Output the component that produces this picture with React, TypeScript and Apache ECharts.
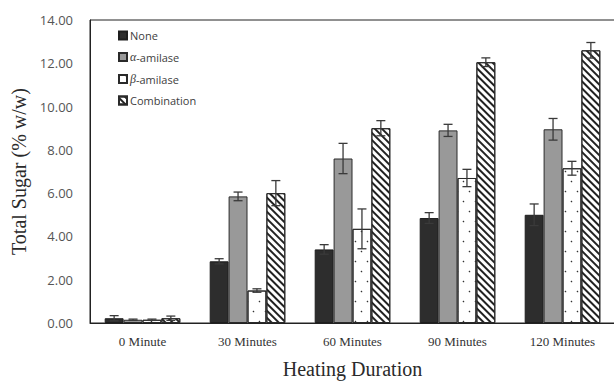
import React, { useEffect, useRef } from "react";
import * as echarts from "echarts";

const categories = ["0 Minute", "30 Minutes", "60 Minutes", "90 Minutes", "120 Minutes"];
const seriesNames = ["None", "α-amilase", "β-amilase", "Combination"];
const noneVals = [0.22, 2.85, 3.4, 4.85, 5.0];
const noneErr = [0.12, 0.12, 0.22, 0.25, 0.5];
const alphaVals = [0.15, 5.85, 7.6, 8.9, 8.95];
const alphaErr = [0.03, 0.2, 0.7, 0.28, 0.5];
const betaVals = [0.15, 1.5, 4.35, 6.7, 7.15];
const betaErr = [0.03, 0.08, 0.92, 0.4, 0.32];
const combVals = [0.22, 6.0, 9.0, 12.05, 12.6];
const combErr = [0.1, 0.58, 0.35, 0.2, 0.36];
const yTicks = [0, 2, 4, 6, 8, 10, 12, 14];

const allVals = [noneVals, alphaVals, betaVals, combVals];
const allErr = [noneErr, alphaErr, betaErr, combErr];

const CAT_GAP = 0.28;

export default function App() {
  const ref = useRef<HTMLDivElement>(null);
  useEffect(() => {
    if (!ref.current) return;
    const chart = echarts.init(ref.current, undefined, { renderer: "svg" });
    const styles: any[] = [
      { color: "#2d2d2d", borderColor: "#1e1e1e", borderWidth: 1 },
      { color: "#999999", borderColor: "#2a2a2a", borderWidth: 1 },
      {
        color: "#ffffff",
        borderColor: "#2a2a2a",
        borderWidth: 1,
        decal: {
          symbol: "circle",
          symbolSize: 0.5,
          color: "#333333",
          backgroundColor: "#ffffff",
          dashArrayX: [[3, 9], [0, 6, 3, 3]],
          dashArrayY: [3, 7],
          rotation: 0,
        },
      },
      {
        color: "#ffffff",
        borderColor: "#2a2a2a",
        borderWidth: 1,
        decal: {
          symbol: "rect",
          symbolSize: 1,
          color: "#222222",
          backgroundColor: "#ffffff",
          dashArrayX: [1, 0],
          dashArrayY: [1.6, 2.4],
          rotation: Math.PI / 4,
        },
      },
    ];
    const barSeries = seriesNames.map((name, i) => ({
      name,
      type: "bar",
      data: allVals[i],
      barGap: "0%",
      barCategoryGap: CAT_GAP * 100 + "%",
      itemStyle: styles[i],
      emphasis: { disabled: true },
    }));
    const errSeries = seriesNames.map((name, i) => ({
      type: "custom",
      name: name + "-err",
      data: allVals[i].map((v, k) => [k, v - allErr[i][k], v + allErr[i][k]]),
      encode: { x: 0, y: [1, 2] },
      z: 10,
      silent: true,
      renderItem: (params: any, api: any) => {
        const x = api.value(0);
        const lo = api.coord([x, api.value(1)]);
        const hi = api.coord([x, api.value(2)]);
        const band = api.size([1, 0])[0];
        const bw = (band * (1 - CAT_GAP)) / 4;
        const cx = lo[0] + (i - 1.5) * bw;
        const cap = 4.5;
        const st = { stroke: "#3a3a3a", lineWidth: 1.3 };
        return {
          type: "group",
          children: [
            { type: "line", shape: { x1: cx, y1: lo[1], x2: cx, y2: hi[1] }, style: st },
            { type: "line", shape: { x1: cx - cap, y1: lo[1], x2: cx + cap, y2: lo[1] }, style: st },
            { type: "line", shape: { x1: cx - cap, y1: hi[1], x2: cx + cap, y2: hi[1] }, style: st },
          ],
        };
      },
    }));
    chart.setOption({
      animation: false,
      grid: {
        left: 90,
        top: 20,
        width: 525,
        bottom: 58,
        outerBoundsMode: "none",
        containLabel: false,
        show: true,
        borderColor: "#222",
        borderWidth: 1,
        backgroundColor: "transparent",
      },
      legend: {
        data: seriesNames,
        orient: "vertical",
        left: 113,
        top: 25,
        itemWidth: 8,
        itemHeight: 8,
        itemGap: 10,
        icon: "rect",
        selectedMode: false,
        formatter: (n: string) =>
          n === "α-amilase" ? "{i|α}-amilase" : n === "β-amilase" ? "{i|β}-amilase" : n,
        textStyle: {
          fontFamily: "Open Sans",
          fontSize: 11,
          color: "#404040",
          padding: [0, 0, 0, -2],
          rich: {
            i: { fontFamily: "Liberation Serif", fontStyle: "italic", fontSize: 12, color: "#404040" },
          },
        },
      },
      xAxis: {
        type: "category",
        data: categories,
        name: "Heating Duration",
        nameLocation: "middle",
        nameGap: 36,
        nameTextStyle: { fontFamily: "Liberation Serif", fontSize: 20, color: "#2a2a2a" },
        axisLine: { lineStyle: { color: "#222", width: 1 } },
        axisTick: { show: false },
        axisLabel: {
          fontFamily: "Liberation Serif",
          fontSize: 13,
          color: "#333",
          margin: 12,
        },
      },
      yAxis: {
        type: "value",
        min: 0,
        max: 14,
        interval: 2,
        name: "Total Sugar (% w/w)",
        nameLocation: "middle",
        nameGap: 60,
        nameTextStyle: { fontFamily: "Liberation Serif", fontSize: 20, color: "#2a2a2a" },
        axisLine: { show: true, lineStyle: { color: "#222", width: 1 } },
        axisTick: { show: false },
        splitLine: { show: false },
        axisLabel: {
          fontFamily: "Open Sans",
          fontSize: 13,
          color: "#555",
          margin: 17,
          formatter: (v: number) => (yTicks.includes(v) ? v.toFixed(2) : ""),
        },
      },
      series: [...barSeries, ...errSeries],
    });
    return () => chart.dispose();
  }, []);
  return <div ref={ref} style={{ width: 614, height: 381, position: "absolute", left: 0, top: 0 }} />;
}
